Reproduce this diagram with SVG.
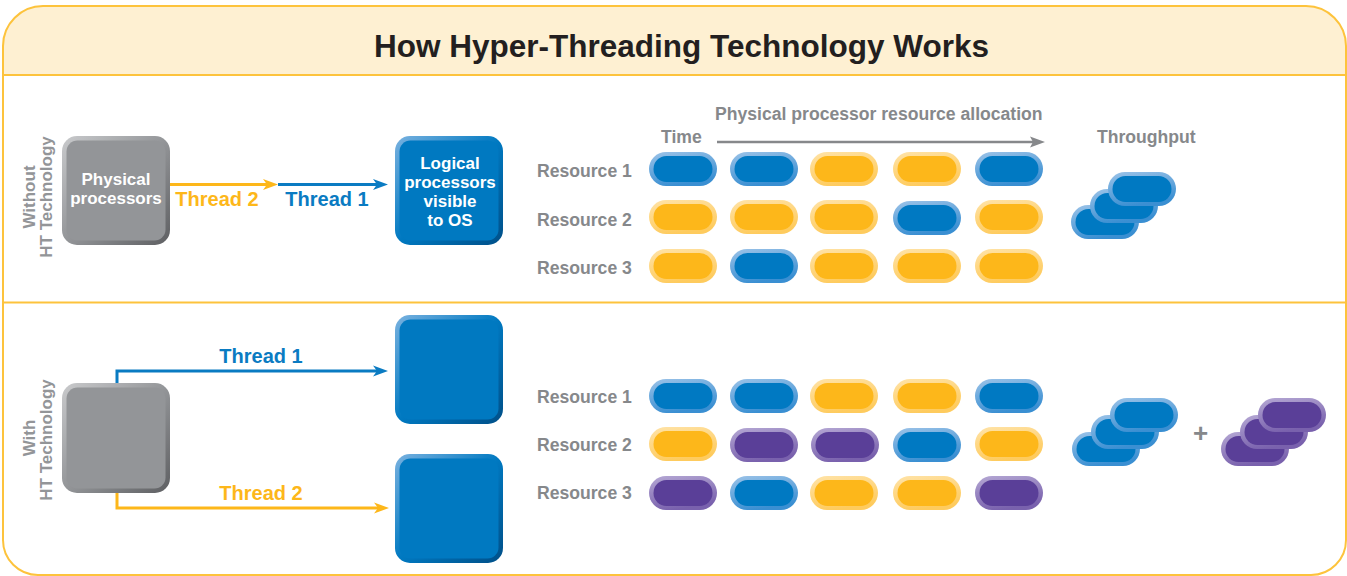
<svg xmlns="http://www.w3.org/2000/svg" xmlns:xlink="http://www.w3.org/1999/xlink" width="1347" height="576" viewBox="0 0 1347 576">
<style>
.frame{fill:none;stroke:#FDC33C;stroke-width:2}
.div{stroke:#FDC33C;stroke-width:2}
.title{font-family:"Liberation Sans",Arial,sans-serif;font-weight:bold;font-size:31.5px;fill:#231F20}
.lbl{font-family:"Liberation Sans",Arial,sans-serif;font-weight:bold;font-size:17.6px;fill:#86888B}
.side{font-family:"Liberation Sans",Arial,sans-serif;font-weight:bold;font-size:17px;fill:#939598}
.box{font-family:"Liberation Sans",Arial,sans-serif;font-weight:bold;font-size:17px;fill:#FFFFFF}
.thr{font-family:"Liberation Sans",Arial,sans-serif;font-weight:bold;font-size:20px}
.blue{fill:#0A7BC2}
.yel{fill:#FDB71A}
.lineB{fill:none;stroke:#0A7BC2;stroke-width:3}
.lineY{fill:none;stroke:#FDB71A;stroke-width:3}
.lineG{fill:none;stroke:#86888B;stroke-width:2.5}
</style>
<defs>
<linearGradient id="gGray" x1="0" y1="0" x2="1" y2="1">
<stop offset="0" stop-color="#C9CACC"/><stop offset="0.5" stop-color="#939598"/><stop offset="1" stop-color="#5E5F62"/>
</linearGradient>
<linearGradient id="gBlue" x1="0" y1="0" x2="1" y2="1">
<stop offset="0" stop-color="#7AB2E0"/><stop offset="0.5" stop-color="#0079C1"/><stop offset="1" stop-color="#004F88"/>
</linearGradient>
<linearGradient id="rB" x1="0" y1="0" x2="0.35" y2="1">
<stop offset="0" stop-color="#9CC3E8"/><stop offset="1" stop-color="#3A8FD2"/>
</linearGradient>
<linearGradient id="rY" x1="0" y1="0" x2="0.35" y2="1">
<stop offset="0" stop-color="#FFE3A8"/><stop offset="1" stop-color="#FECB5E"/>
</linearGradient>
<linearGradient id="rP" x1="0" y1="0" x2="0.35" y2="1">
<stop offset="0" stop-color="#B5A8D4"/><stop offset="1" stop-color="#7961AD"/>
</linearGradient>
<g id="pB"><rect width="68" height="34" rx="17" fill="url(#rB)"/><rect x="4.5" y="4" width="59" height="26" rx="13" fill="#0079C2"/></g>
<g id="pY"><rect width="68" height="34" rx="17" fill="url(#rY)"/><rect x="4.5" y="4" width="59" height="26" rx="13" fill="#FDB71A"/></g>
<g id="pP"><rect width="68" height="34" rx="17" fill="url(#rP)"/><rect x="4.5" y="4" width="59" height="26" rx="13" fill="#5A3F98"/></g>
<marker id="aB" markerUnits="userSpaceOnUse" markerWidth="16" markerHeight="12" refX="4" refY="6" orient="auto"><path d="M0,0.5 L15,6 L0,11.5 L4,6 Z" fill="#0A7BC2"/></marker>
<marker id="aY" markerUnits="userSpaceOnUse" markerWidth="16" markerHeight="12" refX="4" refY="6" orient="auto"><path d="M0,0.5 L15,6 L0,11.5 L4,6 Z" fill="#FDB71A"/></marker>
<marker id="aG" markerUnits="userSpaceOnUse" markerWidth="16" markerHeight="12" refX="3" refY="6" orient="auto"><path d="M0,0.5 L15,6 L0,11.5 L3,6 Z" fill="#86888B"/></marker>
</defs>

<g id="frame">
<path d="M3,75 V46 A40,40 0 0 1 43,6 H1306 A40,40 0 0 1 1346,46 V75 Z" fill="#FEF0D2"/>
<path class="frame" d="M3,46 A40,40 0 0 1 43,6 H1306 A40,40 0 0 1 1346,46 V540 A35,35 0 0 1 1311,575 H38 A35,35 0 0 1 3,540 Z"/>
<line class="div" x1="3" y1="75" x2="1346" y2="75"/>
<line class="div" x1="3" y1="302.5" x2="1346" y2="302.5"/>
<text class="title" x="681.5" y="57" text-anchor="middle">How Hyper-Threading Technology Works</text>
</g>

<g id="side-labels">
<text class="side" transform="translate(35,197) rotate(-90)" text-anchor="middle">Without</text>
<text class="side" transform="translate(52,197) rotate(-90)" text-anchor="middle">HT Technology</text>
<text class="side" transform="translate(35,438) rotate(-90)" text-anchor="middle">With</text>
<text class="side" transform="translate(52,440) rotate(-90)" text-anchor="middle">HT Technology</text>
</g>

<g id="phys-top">
<rect x="62" y="136" width="108" height="109" rx="15" fill="url(#gGray)"/>
<rect x="66.5" y="140.5" width="99" height="100" rx="11" fill="#939598"/>
<text class="box" x="116" y="184.5" text-anchor="middle">Physical</text>
<text class="box" x="116" y="203.5" text-anchor="middle">processors</text>
</g>

<g id="logical-top">
<rect x="395" y="136" width="108" height="109" rx="15" fill="url(#gBlue)"/>
<rect x="399.5" y="140.5" width="99" height="100" rx="11" fill="#0079C1"/>
<text class="box" x="450" y="169" text-anchor="middle">Logical</text>
<text class="box" x="450" y="188" text-anchor="middle">processors</text>
<text class="box" x="450" y="207" text-anchor="middle">visible</text>
<text class="box" x="450" y="226" text-anchor="middle">to OS</text>
</g>

<g id="phys-bottom">
<rect x="62" y="383" width="108" height="110" rx="15" fill="url(#gGray)"/>
<rect x="66.5" y="387.5" width="99" height="101" rx="11" fill="#939598"/>
</g>

<g id="logical-bottom-1">
<rect x="395" y="315" width="108" height="109" rx="15" fill="url(#gBlue)"/>
<rect x="399.5" y="319.5" width="99" height="100" rx="11" fill="#0079C1"/>
</g>

<g id="logical-bottom-2">
<rect x="395" y="454" width="108" height="109" rx="15" fill="url(#gBlue)"/>
<rect x="399.5" y="458.5" width="99" height="100" rx="11" fill="#0079C1"/>
</g>

<g id="connectors">
<path class="lineY" d="M170,184.5 H267" marker-end="url(#aY)"/>
<path class="lineB" d="M278,184.5 H377" marker-end="url(#aB)"/>
<path class="lineB" d="M117,383 V371 H377" marker-end="url(#aB)"/>
<path class="lineY" d="M117,493 V508 H378" marker-end="url(#aY)"/>
<path class="lineG" d="M717,142 H1033" marker-end="url(#aG)"/>
</g>

<g id="thread-labels">
<text class="thr yel" x="217" y="206" text-anchor="middle">Thread 2</text>
<text class="thr blue" x="327" y="206" text-anchor="middle">Thread 1</text>
<text class="thr blue" x="261" y="363" text-anchor="middle">Thread 1</text>
<text class="thr yel" x="261" y="500" text-anchor="middle">Thread 2</text>
</g>

<g id="allocation-header">
<text class="lbl" x="715" y="120">Physical processor resource allocation</text>
<text class="lbl" x="661" y="143">Time</text>
<text class="lbl" x="1097" y="143">Throughput</text>
</g>

<g id="grid-top">
<text class="lbl" x="537" y="177">Resource 1</text>
<text class="lbl" x="537" y="226">Resource 2</text>
<text class="lbl" x="537" y="274">Resource 3</text>
<use xlink:href="#pB" x="649" y="152"/><use xlink:href="#pB" x="730" y="152"/><use xlink:href="#pY" x="810" y="152"/><use xlink:href="#pY" x="893" y="152"/><use xlink:href="#pB" x="975" y="152"/>
<use xlink:href="#pY" x="649" y="200"/><use xlink:href="#pY" x="730" y="200"/><use xlink:href="#pY" x="810" y="200"/><use xlink:href="#pB" x="893" y="201"/><use xlink:href="#pY" x="975" y="200"/>
<use xlink:href="#pY" x="649" y="249"/><use xlink:href="#pB" x="730" y="249"/><use xlink:href="#pY" x="810" y="249"/><use xlink:href="#pY" x="893" y="249"/><use xlink:href="#pY" x="975" y="249"/>
</g>

<g id="grid-bottom">
<text class="lbl" x="537" y="403">Resource 1</text>
<text class="lbl" x="537" y="451">Resource 2</text>
<text class="lbl" x="537" y="499">Resource 3</text>
<use xlink:href="#pB" x="649" y="379"/><use xlink:href="#pB" x="730" y="379"/><use xlink:href="#pY" x="810" y="379"/><use xlink:href="#pY" x="893" y="379"/><use xlink:href="#pB" x="975" y="379"/>
<use xlink:href="#pY" x="649" y="427"/><use xlink:href="#pP" x="730" y="428"/><use xlink:href="#pP" x="811" y="428"/><use xlink:href="#pB" x="893" y="428"/><use xlink:href="#pY" x="975" y="427"/>
<use xlink:href="#pP" x="649" y="476"/><use xlink:href="#pB" x="730" y="476"/><use xlink:href="#pY" x="810" y="476"/><use xlink:href="#pY" x="893" y="476"/><use xlink:href="#pP" x="975" y="476"/>
</g>

<g id="throughput-top">
<use xlink:href="#pB" x="1071" y="205"/>
<use xlink:href="#pB" x="1090" y="189"/>
<use xlink:href="#pB" x="1108" y="172"/>
</g>

<g id="throughput-bottom">
<use xlink:href="#pB" x="1072" y="432"/>
<use xlink:href="#pB" x="1091" y="415"/>
<use xlink:href="#pB" x="1110" y="398"/>
<text x="1200.5" y="442" text-anchor="middle" font-family="Liberation Sans, Arial, sans-serif" font-weight="bold" font-size="26" fill="#86888B">+</text>
<use xlink:href="#pP" x="1221" y="432"/>
<use xlink:href="#pP" x="1240" y="415"/>
<use xlink:href="#pP" x="1258" y="398"/>
</g>
</svg>
